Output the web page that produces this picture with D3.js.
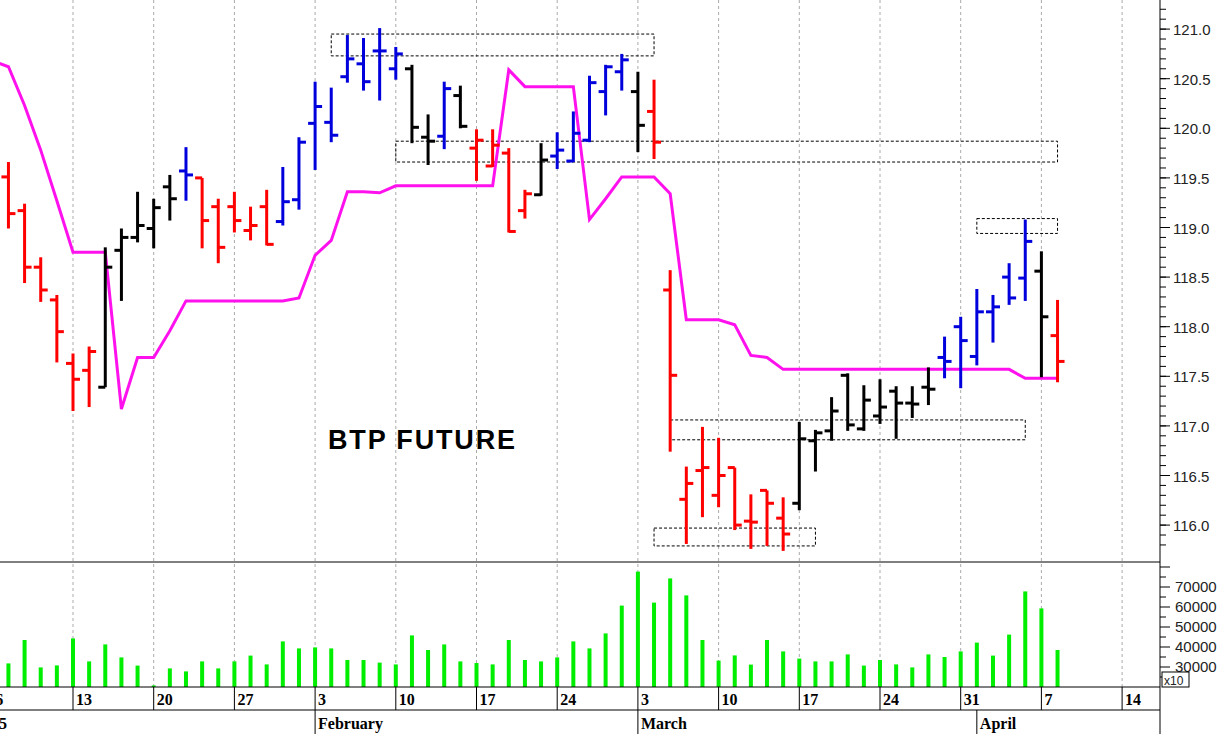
<!DOCTYPE html>
<html>
<head>
<meta charset="utf-8">
<script src="https://d3js.org/d3.v7.min.js"></script>
<style>
  body { margin: 0; background: #fff; }
  svg { display: block; }
</style>
</head>
<body>
<svg id="chart" width="1231" height="734"></svg>
<script>
// trading days, Jan 7 -> Apr 8
var dates = ["Jan 7","Jan 8","Jan 9","Jan 10",
  "Jan 13","Jan 14","Jan 15","Jan 16","Jan 17",
  "Jan 20","Jan 21","Jan 22","Jan 23","Jan 24",
  "Jan 27","Jan 28","Jan 29","Jan 30","Jan 31",
  "Feb 3","Feb 4","Feb 5","Feb 6","Feb 7",
  "Feb 10","Feb 11","Feb 12","Feb 13","Feb 14",
  "Feb 17","Feb 18","Feb 19","Feb 20","Feb 21",
  "Feb 24","Feb 25","Feb 26","Feb 27","Feb 28",
  "Mar 3","Mar 4","Mar 5","Mar 6","Mar 7",
  "Mar 10","Mar 11","Mar 12","Mar 13","Mar 14",
  "Mar 17","Mar 18","Mar 19","Mar 20","Mar 21",
  "Mar 24","Mar 25","Mar 26","Mar 27","Mar 28",
  "Mar 31","Apr 1","Apr 2","Apr 3","Apr 4",
  "Apr 7","Apr 8"];

var open = [119.51,119.17,118.60,118.27, 117.63,117.56,117.39,118.77,118.90,
  118.99,119.41,119.57,119.50,119.21, 119.21,118.97,119.21,119.06,119.28,
  120.05,120.06,120.52,120.65,120.78, 120.60,120.60,119.91,119.92,120.33,
  119.80,119.62,119.75,119.17,119.33, 119.72,119.67,119.88,120.37,120.57,
  120.37,120.17,118.37,116.26,116.55, 116.30,116.58,116.04,116.35,116.07,
  116.22,116.85,116.95,117.51,116.97, 117.10,117.35,117.23,117.39,117.69,
  118.00,117.70,118.15,118.50,118.49, 118.56,117.91];
var high = [119.66,119.24,118.70,118.32, 117.73,117.80,118.80,118.99,119.36,
  119.29,119.53,119.81,119.50,119.29, 119.36,119.21,119.38,119.61,119.91,
  120.47,120.41,120.94,120.91,121.01, 120.82,120.64,120.14,120.47,120.43,
  119.99,119.99,119.80,119.38,119.85, 119.96,120.17,120.53,120.64,120.75,
  120.57,120.49,118.57,116.59,116.99, 116.88,116.58,116.31,116.35,116.28,
  117.04,116.96,117.29,117.53,117.41, 117.47,117.40,117.40,117.59,117.90,
  118.10,118.38,118.32,118.64,119.08, 118.76,118.27];
var low = [118.99,118.44,118.25,117.64, 117.15,117.19,117.39,118.26,118.85,
  118.79,119.07,119.27,118.79,118.64, 118.95,118.87,118.82,119.02,119.18,
  119.58,119.86,120.46,120.38,120.28, 120.49,119.85,119.63,119.79,120.00,
  119.47,119.61,118.95,119.09,119.32, 119.59,119.66,119.86,120.13,120.38,
  119.76,119.69,116.74,115.81,116.08, 116.18,115.95,115.76,115.79,115.74,
  116.15,116.54,116.85,116.95,116.95, 117.02,116.87,117.08,117.21,117.48,
  117.38,117.61,117.84,118.22,118.26, 117.49,117.44];
var close = [119.14,118.60,118.37,117.95, 117.47,117.75,118.60,118.90,119.02,
  119.20,119.29,119.53,119.07,118.80, 119.07,119.02,118.83,119.26,119.86,
  120.22,119.93,120.70,120.47,120.78, 120.75,120.01,119.87,120.40,120.02,
  119.88,119.83,118.96,119.34,119.68, 119.78,119.95,120.46,120.62,120.69,
  120.03,119.86,117.51,116.42,116.58, 116.50,116.00,116.03,116.22,115.91,
  116.87,116.93,117.15,117.01,117.26, 117.19,117.23,117.22,117.37,117.65,
  117.86,118.15,118.20,118.29,118.86, 118.10,117.65];
// bar colour code: r = red, k = black, b = blue
var barColor = "rrrrrrkkkkkbrrrrrbbbbbbbbkkbkrrrrkbbbbbkrrrrrrrrrkkkkkkkkkbbbbbbkr";

// trend line, starting one day before the first bar (Jan 6)
var trendLine = [120.68,120.62,120.23,119.78,119.27, 118.75,118.75,118.75,117.17,117.69,
  117.69,117.96,118.26,118.26,118.26, 118.26,118.26,118.26,118.26,118.29,
  118.72,118.87,119.36,119.36,119.35, 119.42,119.42,119.42,119.42,119.42,
  119.42,119.42,120.59,120.42,120.42, 120.42,120.42,119.08,119.29,119.51,
  119.51,119.51,119.34,118.07,118.07, 118.07,118.02,117.71,117.69,117.57,
  117.57,117.57,117.57,117.57,117.57, 117.57,117.57,117.57,117.57,117.57,
  117.57,117.57,117.57,117.57,117.48, 117.48,117.48];

var volume = [31800,43500,29800,30800, 44300,32800,41300,34800,30700,
  20800,29300,27800,32800,29300, 32800,35700,31300,42800,39300,
  39800,39300,33500,33500,32200, 31300,45800,38500,41300,32800,
  32000,31300,43500,33500,32800, 34800,42800,39300,46800,60700,
  77700,62200,74300,65800,43500, 33200,35800,31200,43500,37800,
  34200,32800,32800,36300,30700, 33500,31300,29800,36300,35000,
  37800,42200,35700,46200,67800, 59300,38500];

// dotted boxes: [first day index, last day index, top price, bottom price]
var boxes = [[20,40,120.95,120.73],[24,65,119.87,119.66],[41,63,117.06,116.86],
  [40,50,115.97,115.79],[60,65,119.09,118.94]];

// week labels (day index of the Monday; may fall outside data)
var weekIdx = [-1,4,9,14,19,24,29,34,39,44,49,54,59,64,69];
var weekLbl = ["6","13","20","27","3","10","17","24","3","10","17","24","31","7","14"];
var monthIdx = [-8,19,39,60];
var monthLbl = ["2025","February","March","April"];

var priceTicks = [116.0,116.5,117.0,117.5,118.0,118.5,119.0,119.5,120.0,120.5,121.0];
var volTicks = [30000,40000,50000,60000,70000];

var svg = d3.select("#chart");
var axisX = 1160, priceBottom = 562, volTop = 563, volBottom = 687, dateRow = 710;

var x = d3.scaleLinear().domain([0, 1]).range([8.44, 8.44 + 16.14]);
var y = d3.scaleLinear().domain([116, 121]).range([525.1, 29.1]);
var yv = d3.scaleLinear().domain([20000, 82000]).range([volBottom, volTop]);
var colors = { r: "#ff0000", k: "#000000", b: "#0000dd" };

// week grid lines
svg.append("g").selectAll("line").data(weekIdx).enter().append("line")
  .attr("x1", function(d) { return x(d); }).attr("x2", function(d) { return x(d); })
  .attr("y1", 0).attr("y2", volBottom)
  .attr("stroke", "#aaa").attr("stroke-dasharray", "3,3");

// boxes
svg.append("g").selectAll("rect").data(boxes).enter().append("rect")
  .attr("x", function(d) { return x(d[0]); })
  .attr("y", function(d) { return y(d[2]); })
  .attr("width", function(d) { return x(d[1]) - x(d[0]); })
  .attr("height", function(d) { return y(d[3]) - y(d[2]); })
  .attr("fill", "none").attr("stroke", "#000").attr("stroke-dasharray", "3,2");

// trend line
svg.append("path").datum(trendLine)
  .attr("d", d3.line().x(function(d, i) { return x(i - 1); }).y(function(d) { return y(d); }))
  .attr("fill", "none").attr("stroke", "#ff11ee").attr("stroke-width", 3);

// OHLC bars
var bars = svg.append("g").selectAll("g").data(dates).enter().append("g")
  .attr("stroke", function(d, i) { return colors[barColor[i]]; })
  .attr("stroke-width", 3);
bars.append("line")
  .attr("x1", function(d, i) { return x(i); }).attr("x2", function(d, i) { return x(i); })
  .attr("y1", function(d, i) { return y(high[i]); }).attr("y2", function(d, i) { return y(low[i]); });
bars.append("line")
  .attr("x1", function(d, i) { return x(i) - 7; }).attr("x2", function(d, i) { return x(i); })
  .attr("y1", function(d, i) { return y(open[i]); }).attr("y2", function(d, i) { return y(open[i]); });
bars.append("line")
  .attr("x1", function(d, i) { return x(i); }).attr("x2", function(d, i) { return x(i) + 7; })
  .attr("y1", function(d, i) { return y(close[i]); }).attr("y2", function(d, i) { return y(close[i]); });

svg.append("text").attr("x", 328).attr("y", 449)
  .attr("font-family", "Liberation Sans, Arial").attr("font-weight", "bold")
  .attr("font-size", 27).attr("textLength", 187).text("BTP FUTURE");

// volume bars
svg.append("g").selectAll("rect").data(volume).enter().append("rect")
  .attr("x", function(d, i) { return x(i) - 2; })
  .attr("width", 4)
  .attr("y", function(d) { return yv(d); })
  .attr("height", function(d) { return volBottom - yv(d); })
  .attr("fill", "#00ee00");

// frame lines
svg.append("line").attr("x1", 0).attr("x2", axisX).attr("y1", priceBottom).attr("y2", priceBottom).attr("stroke", "#000");
svg.append("line").attr("x1", 0).attr("x2", axisX).attr("y1", volBottom).attr("y2", volBottom).attr("stroke", "#000");
svg.append("line").attr("x1", 0).attr("x2", axisX).attr("y1", dateRow).attr("y2", dateRow).attr("stroke", "#000");
svg.append("line").attr("x1", axisX).attr("x2", axisX).attr("y1", 0).attr("y2", 734).attr("stroke", "#000");

// price axis
var pAxis = svg.append("g").attr("transform", "translate(" + axisX + ",0)");
pAxis.selectAll(".minor").data(d3.range(115.8, 121.45, 0.1)).enter().append("line")
  .attr("x1", 0).attr("x2", 6).attr("y1", function(d) { return y(d); }).attr("y2", function(d) { return y(d); })
  .attr("stroke", "#000");
pAxis.selectAll(".major").data(priceTicks).enter().append("line")
  .attr("x1", 0).attr("x2", 10).attr("y1", function(d) { return y(d); }).attr("y2", function(d) { return y(d); })
  .attr("stroke", "#000");
pAxis.selectAll("text").data(priceTicks).enter().append("text")
  .attr("x", 13).attr("y", function(d) { return y(d) + 6; })
  .attr("font-family", "Liberation Sans, Arial").attr("font-size", 15).attr("fill", "#222")
  .text(function(d) { return d3.format(".1f")(d); });

// volume axis
var vAxis = svg.append("g").attr("transform", "translate(" + axisX + ",0)");
vAxis.selectAll("line").data(d3.range(25000, 80001, 5000)).enter().append("line")
  .attr("x1", 0).attr("x2", function(d) { return d % 10000 ? 6 : 10; })
  .attr("y1", function(d) { return yv(d); }).attr("y2", function(d) { return yv(d); })
  .attr("stroke", "#000");
vAxis.selectAll("text").data(volTicks).enter().append("text")
  .attr("x", 15).attr("y", function(d) { return yv(d) + 5; })
  .attr("font-family", "Liberation Sans, Arial").attr("font-size", 15).attr("fill", "#222")
  .text(function(d) { return d; });
vAxis.append("rect").attr("x", 2).attr("y", 672).attr("width", 27).attr("height", 15)
  .attr("fill", "#fff").attr("stroke", "#000");
vAxis.append("text").attr("x", 4).attr("y", 685).attr("font-family", "Liberation Sans, Arial")
  .attr("font-size", 12).attr("fill", "#222").text("x10");

// date rows
var wk = svg.append("g");
wk.selectAll("line").data(weekIdx).enter().append("line")
  .attr("x1", function(d) { return x(d); }).attr("x2", function(d) { return x(d); })
  .attr("y1", volBottom).attr("y2", dateRow).attr("stroke", "#000");
wk.selectAll("text").data(weekLbl).enter().append("text")
  .attr("x", function(d, i) { return x(weekIdx[i]) + 3; }).attr("y", 705)
  .attr("font-family", "Liberation Serif, Times New Roman").attr("font-weight", "bold")
  .attr("font-size", 16).text(function(d) { return d; });
var mo = svg.append("g");
mo.selectAll("line").data(monthIdx).enter().append("line")
  .attr("x1", function(d) { return x(d); }).attr("x2", function(d) { return x(d); })
  .attr("y1", dateRow).attr("y2", 734).attr("stroke", "#000");
mo.selectAll("text").data(monthLbl).enter().append("text")
  .attr("x", function(d, i) { return i ? x(monthIdx[i]) + 3 : 7; }).attr("y", 729)
  .attr("text-anchor", function(d, i) { return i ? "start" : "end"; })
  .attr("font-family", "Liberation Serif, Times New Roman").attr("font-weight", "bold")
  .attr("font-size", 16).text(function(d) { return d; });
</script>
</body>
</html>
